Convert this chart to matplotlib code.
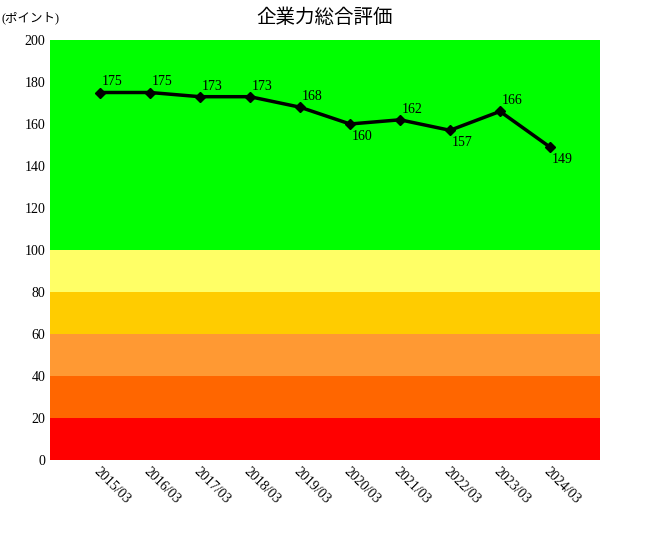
import matplotlib.pyplot as plt

plt.rcParams['font.family'] = ['Liberation Serif', 'Noto Sans CJK JP']

years = ["2015/03", "2016/03", "2017/03", "2018/03", "2019/03",
         "2020/03", "2021/03", "2022/03", "2023/03", "2024/03"]
scores = [175, 175, 173, 173, 168, 160, 162, 157, 166, 149]
label_below = [False, False, False, False, False, True, False, True, False, True]

band_edges = [0, 20, 40, 60, 80, 100, 200]
band_colors = ["#ff0000", "#ff6600", "#ff9933", "#ffcc00", "#ffff66", "#00ff00"]

fig = plt.figure(figsize=(6.5, 5.4), dpi=100)
ax = fig.add_axes([50/650, 1-460/540, 550/650, 420/540])

for lo, hi, c in zip(band_edges[:-1], band_edges[1:], band_colors):
    ax.axhspan(lo, hi, color=c, lw=0)

x = list(range(len(years)))
ax.plot(x, scores, color="black", lw=2.5, marker="D", markersize=5)
for xi, v, below in zip(x, scores, label_below):
    if below:
        ax.annotate(str(v), (xi, v), xytext=(1, -4), textcoords="offset points",
                    ha="left", va="top", fontsize=10)
    else:
        ax.annotate(str(v), (xi, v), xytext=(1, 3), textcoords="offset points",
                    ha="left", va="bottom", fontsize=10)

ax.set_xlim(-1, 10)
ax.set_ylim(0, 200)
ax.set_yticks(range(0, 201, 20))
ax.set_xticks(x)
ax.set_xticklabels(years, rotation=-45, ha="left", va="top", rotation_mode="anchor", fontsize=10)
ax.tick_params(length=0, labelsize=10)
for s in ax.spines.values():
    s.set_visible(False)

fig.text(0.5, 1-18/540, "企業力総合評価", ha="center", va="center", fontsize=14)
fig.text(2/650, 1-18/540, "(ポイント)", ha="left", va="center", fontsize=9)

fig.savefig("out.png", dpi=100)
